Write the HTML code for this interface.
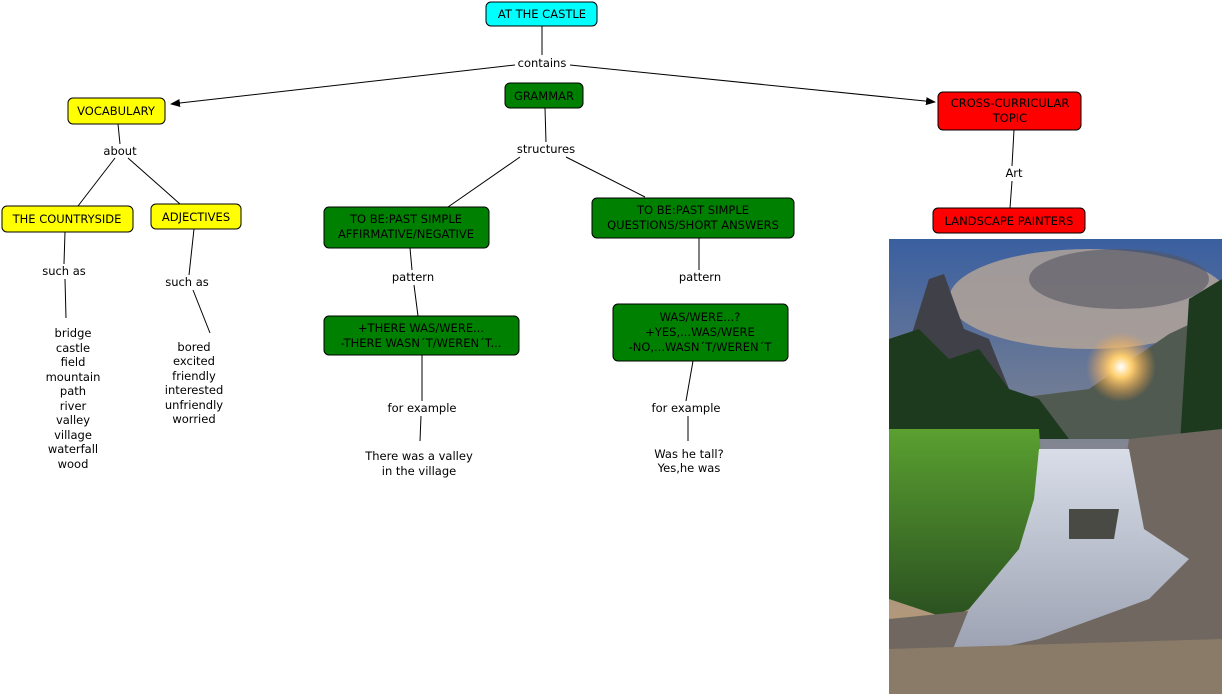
<!DOCTYPE html>
<html><head><meta charset="utf-8"><style>
html,body{margin:0;padding:0;background:#fff;width:1224px;height:696px;overflow:hidden}
svg{display:block}
text{font-family:"DejaVu Sans","Liberation Sans",sans-serif;font-size:11.5px;fill:#000;text-anchor:middle}
</style></head><body>
<svg width="1224" height="696" viewBox="0 0 1224 696">
<defs>
<marker id="a" markerWidth="10" markerHeight="8" refX="9" refY="4" orient="auto" markerUnits="userSpaceOnUse"><path d="M0,0 L10,4 L0,8z" fill="#000"/></marker>
<linearGradient id="sky" x1="0" y1="0" x2="0" y2="1"><stop offset="0" stop-color="#3a5fa0"/><stop offset="0.5" stop-color="#8a8a90"/><stop offset="1" stop-color="#c8a070"/></linearGradient>
<radialGradient id="sun" cx="0.5" cy="0.5" r="0.5"><stop offset="0" stop-color="#fff"/><stop offset="0.3" stop-color="#ffd070"/><stop offset="1" stop-color="#ffa040" stop-opacity="0"/></radialGradient>
<linearGradient id="gr" x1="0" y1="0" x2="0" y2="1"><stop offset="0" stop-color="#5aa030"/><stop offset="1" stop-color="#2a5020"/></linearGradient>
<linearGradient id="wt" x1="0" y1="0" x2="0" y2="1"><stop offset="0" stop-color="#d8dde8"/><stop offset="1" stop-color="#9aa0b0"/></linearGradient>
</defs>
<g stroke="#000" stroke-width="1" fill="none">
<line x1="542" y1="26" x2="542" y2="55"/>
<line x1="515" y1="65" x2="171" y2="104" marker-end="url(#a)"/>
<line x1="570" y1="65" x2="935" y2="102" marker-end="url(#a)"/>
<line x1="118" y1="124" x2="120" y2="144"/>
<line x1="115" y1="158" x2="78" y2="206"/>
<line x1="128" y1="158" x2="180" y2="204"/>
<line x1="545" y1="108" x2="546" y2="142"/>
<line x1="520" y1="157" x2="448" y2="207"/>
<line x1="566" y1="157" x2="645" y2="197"/>
<line x1="1014" y1="130" x2="1012" y2="166"/>
<line x1="1012" y1="181" x2="1010" y2="208"/>
<line x1="65" y1="232" x2="64" y2="264"/>
<line x1="65" y1="279" x2="66" y2="318"/>
<line x1="194" y1="229" x2="189" y2="275"/>
<line x1="193" y1="290" x2="210" y2="333"/>
<line x1="410" y1="248" x2="412" y2="270"/>
<line x1="414" y1="285" x2="418" y2="316"/>
<line x1="699" y1="238" x2="699" y2="270"/>
<line x1="422" y1="355" x2="422" y2="401"/>
<line x1="421" y1="416" x2="420" y2="441"/>
<line x1="693" y1="361" x2="686" y2="401"/>
<line x1="688" y1="416" x2="688" y2="441"/>
</g>
<g stroke="#000" stroke-width="1">
<rect x="486" y="2" width="111" height="24" rx="5" fill="#00ffff"/>
<rect x="68" y="98" width="97" height="26" rx="5" fill="#ffff00"/>
<rect x="505" y="83" width="78" height="25" rx="5" fill="#008000"/>
<rect x="938" y="92" width="143" height="38" rx="5" fill="#ff0000"/>
<rect x="2" y="206" width="131" height="26" rx="5" fill="#ffff00"/>
<rect x="151" y="204" width="90" height="25" rx="5" fill="#ffff00"/>
<rect x="324" y="207" width="165" height="41" rx="5" fill="#008000"/>
<rect x="592" y="198" width="202" height="40" rx="5" fill="#008000"/>
<rect x="933" y="208" width="152" height="25" rx="5" fill="#ff0000"/>
<rect x="324" y="316" width="195" height="39" rx="5" fill="#008000"/>
<rect x="613" y="304" width="175" height="57" rx="5" fill="#008000"/>
</g>
<text x="542" y="18">AT THE CASTLE</text>
<text x="116" y="115">VOCABULARY</text>
<text x="544" y="100">GRAMMAR</text>
<text x="1010" y="107">CROSS-CURRICULAR</text>
<text x="1010" y="122">TOPIC</text>
<text x="67" y="223">THE COUNTRYSIDE</text>
<text x="196" y="221">ADJECTIVES</text>
<text x="406" y="223">TO BE:PAST SIMPLE</text>
<text x="406" y="238">AFFIRMATIVE/NEGATIVE</text>
<text x="693" y="214">TO BE:PAST SIMPLE</text>
<text x="693" y="229">QUESTIONS/SHORT ANSWERS</text>
<text x="1009" y="225">LANDSCAPE PAINTERS</text>
<text x="421" y="332">+THERE WAS/WERE...</text>
<text x="421" y="347">-THERE WASN´T/WEREN´T...</text>
<text x="700" y="321">WAS/WERE...?</text>
<text x="700" y="336">+YES,...WAS/WERE</text>
<text x="700" y="351">-NO,...WASN´T/WEREN´T</text>
<text x="542" y="67">contains</text>
<text x="120" y="155">about</text>
<text x="546" y="153">structures</text>
<text x="1014" y="177">Art</text>
<text x="64" y="275">such as</text>
<text x="187" y="286">such as</text>
<text x="413" y="281">pattern</text>
<text x="700" y="281">pattern</text>
<text x="422" y="412">for example</text>
<text x="686" y="412">for example</text>
<g>
<text x="73" y="337">bridge</text><text x="73" y="352">castle</text><text x="73" y="366">field</text><text x="73" y="381">mountain</text><text x="73" y="395">path</text><text x="73" y="410">river</text><text x="73" y="424">valley</text><text x="73" y="439">village</text><text x="73" y="453">waterfall</text><text x="73" y="468">wood</text>
<text x="194" y="351">bored</text><text x="194" y="365">excited</text><text x="194" y="380">friendly</text><text x="194" y="394">interested</text><text x="194" y="409">unfriendly</text><text x="194" y="423">worried</text>
<text x="419" y="460">There was a valley</text><text x="419" y="475">in the village</text>
<text x="689" y="458">Was he tall?</text><text x="689" y="472">Yes,he was</text>
</g>
<g>
<svg x="889" y="239" width="333" height="455" viewBox="0 0 333 455" preserveAspectRatio="none">
<rect width="333" height="455" fill="url(#sky)"/>
<ellipse cx="200" cy="60" rx="140" ry="50" fill="#b8a898" opacity="0.8"/>
<ellipse cx="230" cy="40" rx="90" ry="30" fill="#555560" opacity="0.6"/>
<path d="M15,120 L40,40 L55,35 L75,90 L100,100 L120,150 L15,170z" fill="#404048"/>
<path d="M120,160 L200,150 L280,95 L333,70 L333,200 L120,200z" fill="#505a50"/>
<circle cx="232" cy="128" r="35" fill="url(#sun)"/>
<path d="M0,100 L0,200 L180,200 L150,160 L120,150 L90,110 L60,120 L30,90z" fill="#1e3a1e"/>
<path d="M300,60 L333,40 L333,220 L290,220z" fill="#1e3a1e"/>
<path d="M0,190 L150,190 L160,330 L60,380 L0,360z" fill="url(#gr)"/>
<path d="M240,200 L333,190 L333,455 L0,455 L0,380 L100,370 L220,330z" fill="#706860"/>
<path d="M150,210 L240,210 L255,290 L300,320 L260,360 L150,400 L60,420 L80,370 L130,310 L145,260z" fill="url(#wt)"/>
<path d="M180,270 L230,270 L225,300 L180,300z" fill="#4a4a45"/>
<path d="M0,410 L333,400 L333,455 L0,455z" fill="#8a7a68"/>
</svg>
</g>
</svg>
</body></html>
